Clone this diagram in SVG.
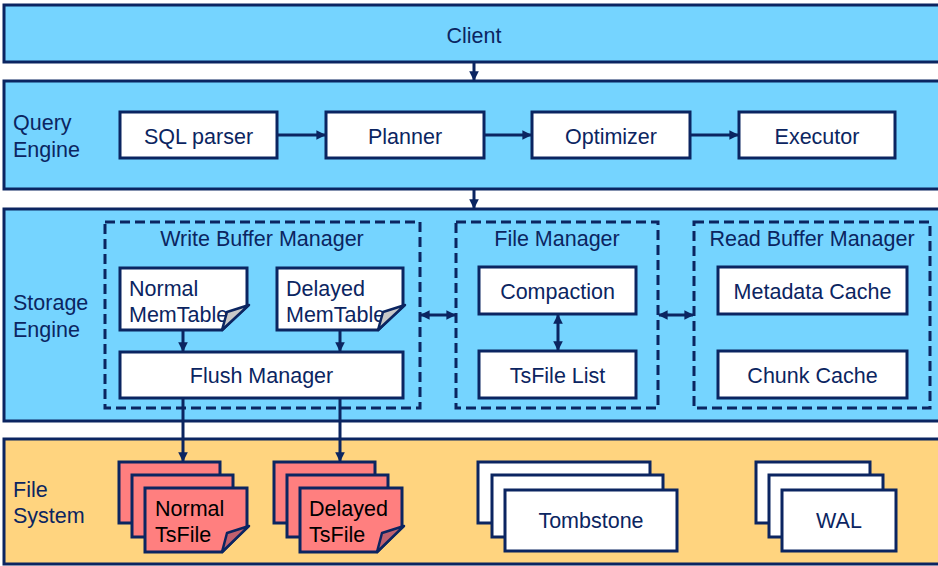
<svg xmlns="http://www.w3.org/2000/svg" width="938" height="566" viewBox="0 0 938 566">
  <defs>
    <marker id="ah" viewBox="0 0 10 10" refX="9" refY="5" markerWidth="3.2" markerHeight="3.2" orient="auto-start-reverse">
      <path d="M0,0 L10,5 L0,10 Z" fill="#0b2561"/>
    </marker>
  </defs>
  <style>
    text { font-family: "Liberation Sans", Arial, sans-serif; font-size: 21.5px; fill: #0b2561; }
    .layer { stroke: #0b2561; stroke-width: 3; }
    .blue { fill: #75d4ff; }
    .gold { fill: #ffd47f; }
    .box { fill: #ffffff; stroke: #0b2561; stroke-width: 3; }
    .dash { fill: none; stroke: #0b2561; stroke-width: 3; stroke-dasharray: 10 5; }
    .page { fill: #ffffff; stroke: #0b2561; stroke-width: 3; }
    .ts { fill: #ff7f7f; stroke: #0b2561; stroke-width: 3; }
    .fold { fill: #c8c8c8; stroke: #0b2561; stroke-width: 2.5; stroke-linejoin: round; }
    .tsfold { fill: #c0606e; stroke: #0b2561; stroke-width: 2.5; stroke-linejoin: round; }
    .c { text-anchor: middle; }
    .dark { fill: #000000; }
    .conn { stroke: #0b2561; stroke-width: 3; fill: none; marker-end: url(#ah); }
    .both { marker-start: url(#ah); }
  </style>

  <!-- Layers -->
  <g id="client">
    <rect class="layer blue" x="4" y="5" width="940" height="57"/>
    <text class="c" x="474" y="43">Client</text>
  </g>

  <g id="query-engine">
    <rect class="layer blue" x="4" y="81" width="940" height="108"/>
    <text x="13" y="130">Query</text>
    <text x="13" y="157">Engine</text>
  </g>

  <g id="storage-engine">
    <rect class="layer blue" x="4" y="209" width="940" height="212"/>
    <text x="13" y="310">Storage</text>
    <text x="13" y="337">Engine</text>
  </g>

  <g id="file-system">
    <rect class="layer gold" x="4" y="439" width="940" height="125"/>
    <text x="13" y="497">File</text>
    <text x="13" y="523">System</text>
  </g>

  <!-- Query engine stages -->
  <g id="sql-parser">
    <rect class="box" x="120" y="112" width="157" height="46"/>
    <text class="c" x="198.5" y="144">SQL parser</text>
  </g>
  <g id="planner">
    <rect class="box" x="326" y="112" width="158" height="46"/>
    <text class="c" x="405" y="144">Planner</text>
  </g>
  <g id="optimizer">
    <rect class="box" x="532" y="112" width="158" height="46"/>
    <text class="c" x="611" y="144">Optimizer</text>
  </g>
  <g id="executor">
    <rect class="box" x="739" y="112" width="156" height="46"/>
    <text class="c" x="817" y="144">Executor</text>
  </g>

  <!-- Storage engine managers -->
  <g id="write-buffer-manager">
    <rect class="dash" x="105" y="222" width="315" height="186"/>
    <text class="c" x="262" y="246">Write Buffer Manager</text>
  </g>
  <g id="normal-memtable">
    <path class="page" d="M120,268 H247 V306 L222,330 H120 Z"/>
    <text x="129" y="296">Normal</text>
    <text x="129" y="322">MemTable</text>
    <path class="fold" d="M249,305 L222,330 L227,312 Z"/>
  </g>
  <g id="delayed-memtable">
    <path class="page" d="M277,268 H403 V306 L378,330 H277 Z"/>
    <text x="286" y="296">Delayed</text>
    <text x="286" y="322">MemTable</text>
    <path class="fold" d="M405,305 L378,330 L383,312 Z"/>
  </g>
  <g id="flush-manager">
    <rect class="box" x="120" y="352" width="283" height="46"/>
    <text class="c" x="261.5" y="383">Flush Manager</text>
  </g>

  <g id="file-manager">
    <rect class="dash" x="456" y="222" width="202" height="186"/>
    <text class="c" x="557" y="246">File Manager</text>
  </g>
  <g id="compaction">
    <rect class="box" x="479" y="267" width="157" height="47"/>
    <text class="c" x="557.5" y="299">Compaction</text>
  </g>
  <g id="tsfile-list">
    <rect class="box" x="479" y="351" width="157" height="47"/>
    <text class="c" x="557.5" y="383">TsFile List</text>
  </g>

  <g id="read-buffer-manager">
    <rect class="dash" x="694" y="222" width="236" height="186"/>
    <text class="c" x="812" y="246">Read Buffer Manager</text>
  </g>
  <g id="metadata-cache">
    <rect class="box" x="718" y="267" width="189" height="47"/>
    <text class="c" x="812.5" y="299">Metadata Cache</text>
  </g>
  <g id="chunk-cache">
    <rect class="box" x="718" y="351" width="189" height="47"/>
    <text class="c" x="812.5" y="383">Chunk Cache</text>
  </g>

  <!-- File system stacks -->
  <g id="normal-tsfile">
    <rect class="ts" x="119" y="462" width="101" height="61"/>
    <rect class="ts" x="132" y="475" width="101" height="62"/>
    <path class="ts" d="M145,488 H247 V527 L222,552 H145 Z"/>
    <text class="dark" x="155" y="516">Normal</text>
    <text class="dark" x="155" y="542">TsFile</text>
    <path class="tsfold" d="M249,526 L222,552 L227,533 Z"/>
  </g>
  <g id="delayed-tsfile">
    <rect class="ts" x="274" y="462" width="101" height="61"/>
    <rect class="ts" x="287" y="475" width="101" height="62"/>
    <path class="ts" d="M300,488 H402 V527 L377,552 H300 Z"/>
    <text class="dark" x="309" y="516">Delayed</text>
    <text class="dark" x="309" y="542">TsFile</text>
    <path class="tsfold" d="M404,526 L377,552 L382,533 Z"/>
  </g>
  <g id="tombstone">
    <rect class="page" x="478" y="462" width="172" height="61"/>
    <rect class="page" x="492" y="475" width="171" height="62"/>
    <rect class="page" x="505" y="490" width="172" height="61"/>
    <text class="c" x="591" y="528">Tombstone</text>
  </g>
  <g id="wal">
    <rect class="page" x="756" y="462" width="114" height="61"/>
    <rect class="page" x="769" y="475" width="114" height="62"/>
    <rect class="page" x="782" y="490" width="114" height="61"/>
    <text class="c" x="839" y="528">WAL</text>
  </g>

  <!-- Connectors -->
  <g id="connectors">
    <line class="conn" x1="474" y1="63" x2="474" y2="80"/>
    <line class="conn" x1="474" y1="190" x2="474" y2="208"/>
    <line class="conn" x1="278" y1="135" x2="325" y2="135"/>
    <line class="conn" x1="485" y1="135" x2="531" y2="135"/>
    <line class="conn" x1="691" y1="135" x2="738" y2="135"/>
    <line class="conn" x1="183" y1="331" x2="183" y2="351"/>
    <line class="conn" x1="340" y1="331" x2="340" y2="351"/>
    <line class="conn" x1="183" y1="399" x2="183" y2="461"/>
    <line class="conn" x1="340" y1="399" x2="340" y2="461"/>
    <line class="conn both" x1="421" y1="315" x2="455" y2="315"/>
    <line class="conn both" x1="659" y1="315" x2="693" y2="315"/>
    <line class="conn both" x1="558" y1="315" x2="558" y2="350"/>
  </g>
</svg>
